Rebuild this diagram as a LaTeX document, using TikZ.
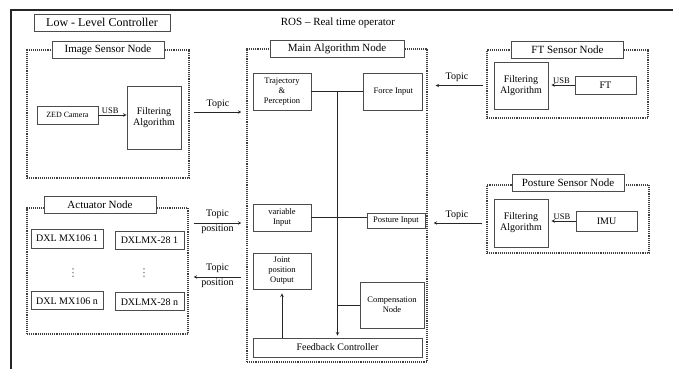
\documentclass[tikz,border=0pt]{standalone}
\usepackage{fontspec}
\setmainfont{Liberation Serif}
\newfontfamily\symfont{DejaVu Sans}
\usetikzlibrary{positioning}

\begin{document}
\begin{tikzpicture}[
    x=1pt, y=-1pt,
    >=stealth,
    node distance=10pt,
    box/.style={draw=black!70, line width=0.8pt, rectangle, inner sep=0pt, align=center, fill=white, font=\fontsize{8.5}{10}\selectfont},
    bigbox/.style={box, font=\fontsize{10}{11}\selectfont},
    groupbox/.style={draw=black!75, densely dotted, line width=1.1pt, rectangle, inner sep=0pt},
    titlebox/.style={box, font=\fontsize{11}{13}\selectfont, minimum width=112, minimum height=17},
    arrow/.style={->, line width=0.6pt, draw=black!85},
    link/.style={line width=0.6pt, draw=black!85},
    lbl/.style={font=\fontsize{10}{12}\selectfont, inner sep=1.5pt}
]
  \useasboundingbox (0,0) rectangle (673,369);
  \draw[line width=1.2pt, black!85] (673,10) -- (11,10) -- (11,369);

  \node[bigbox, font=\fontsize{12}{14}\selectfont, minimum width=136, minimum height=17] (llc) at (102,22.5) {Low - Level Controller};
  \node[lbl, font=\fontsize{11}{13}\selectfont] (ros) at (338,23) {ROS – Real time operator};

  % Image sensor node
  \node[groupbox, minimum width=162, minimum height=128] (imgsens) at (108,114) {};
  \node[titlebox] (imgtitle) at (imgsens.north) {Image Sensor Node};
  \node[box, font=\fontsize{8}{9}\selectfont, minimum width=61, minimum height=18] (zed) at (67.5,115) {ZED Camera};
  \node[bigbox, minimum width=54, minimum height=63] (imgfilt) at (154,117.5) {Filtering\\Algorithm};

  % Main algorithm node
  \node[groupbox, minimum width=180, minimum height=313] (main) at (337,205.5) {};
  \node[titlebox, minimum width=134] (maintitle) at (main.north) {Main Algorithm Node};
  \node[box, minimum width=58, minimum height=37] (traj) at (282,91.5) {Trajectory\\\&\\Perception};
  \node[box, minimum width=59, minimum height=37, right=52pt of traj] (force) {Force Input};
  \node[box, minimum width=58, minimum height=27] (varin) at (282,217.5) {variable\\Input};
  \node[box, minimum width=58, minimum height=15] (posin) at (396,220.5) {Posture Input};
  \node[box, minimum width=58, minimum height=36] (joint) at (282,271) {Joint\\position\\Output};
  \node[box, minimum width=64, minimum height=46] (comp) at (392,305) {Compensation\\Node};
  \node[bigbox, minimum width=169, minimum height=19] (feedback) at (337.5,347.5) {Feedback Controller};

  % FT sensor node
  \node[groupbox, minimum width=161, minimum height=68] (ftsens) at (567.5,84) {};
  \node[titlebox] (fttitle) at (ftsens.north) {FT Sensor Node};
  \node[bigbox, minimum width=54, minimum height=47] (ftfilt) at (521,85.5) {Filtering\\Algorithm};
  \node[bigbox, minimum width=61, minimum height=18] (ft) at (605.5,85) {FT};

  % Posture sensor node
  \node[groupbox, minimum width=162, minimum height=68] (possens) at (568,219) {};
  \node[titlebox] (postitle) at ([yshift=2pt]possens.north) {Posture Sensor Node};
  \node[bigbox, minimum width=54, minimum height=48] (posfilt) at (521,223) {Filtering\\Algorithm};
  \node[bigbox, minimum width=61, minimum height=20] (imu) at (606.5,221) {IMU};

  % Actuator node
  \node[groupbox, minimum width=161, minimum height=126] (act) at (107.5,271) {};
  \node[titlebox] (acttitle) at ([xshift=-7.5pt, yshift=2.5pt]act.north) {Actuator Node};
  \node[bigbox, minimum width=72, minimum height=19] (mxa1) at (67,238.5) {DXL MX106 1};
  \node[bigbox, minimum width=69, minimum height=18] (mxb1) at (149.5,240) {DXLMX-28 1};
  \node[bigbox, minimum width=72, minimum height=18, below=43pt of mxa1] (mxan) {DXL MX106 n};
  \node[bigbox, minimum width=69, minimum height=18, below=43pt of mxb1] (mxbn) {DXLMX-28 n};
  \node[lbl, text=black!60, font=\symfont\fontsize{11}{12}\selectfont] (dotsa) at (73,273) {⋮};
  \node[lbl, text=black!60, font=\symfont\fontsize{11}{12}\selectfont] (dotsb) at (144,273) {⋮};

  % connectors
  \draw[arrow] (zed.east) -- (zed.east -| imgfilt.west) node[lbl, above, pos=0.42, font=\fontsize{8.5}{10}\selectfont] {USB};
  \draw[arrow, shorten <=4pt, shorten >=5pt] ([yshift=2pt]imgsens.east) -- ([yshift=2pt]imgsens.east -| main.west) node[lbl, above, midway, yshift=2pt] {Topic};

  \draw[link] (traj) -- (force);
  \draw[arrow, shorten >=2pt] (traj.east -| feedback.north) -- (feedback.north);
  \draw[link] (varin.east) -- (varin.east -| posin.west);
  \draw[link] (comp.west) -- (comp.west -| feedback.north);
  \draw[arrow, shorten >=4pt] (feedback.north -| joint.south) -- (joint.south);

  \draw[arrow, shorten >=3pt] (ft.west) -- (ft.west -| ftfilt.east) node[lbl, above, midway, font=\fontsize{8.5}{10}\selectfont] {USB};
  \draw[arrow, shorten <=3pt, shorten >=8pt] (ftfilt.west -| ftsens.west) -- (ftfilt.west -| main.east) node[lbl, above, midway, yshift=2pt] {Topic};
  \draw[arrow, shorten >=3pt] (imu.west) -- (imu.west -| posfilt.east) node[lbl, above, midway, font=\fontsize{8.5}{10}\selectfont] {USB};
  \draw[arrow, shorten <=4pt, shorten >=6pt] (posfilt.west -| possens.west) -- (posfilt.west -| main.east) node[lbl, above, midway, yshift=2pt] {Topic};

  \draw[arrow, shorten <=5pt, shorten >=5pt] ([yshift=48pt]act.east) -- ([yshift=48pt]act.east -| main.west)
    node[lbl, above, midway, yshift=3pt] {Topic} node[lbl, below, midway] {position};
  \draw[arrow, shorten <=5pt, shorten >=5pt] ([yshift=-6pt]act.east -| main.west) -- ([yshift=-6pt]act.east)
    node[lbl, above, midway, yshift=3pt] {Topic} node[lbl, below, midway] {position};
\end{tikzpicture}
\end{document}
